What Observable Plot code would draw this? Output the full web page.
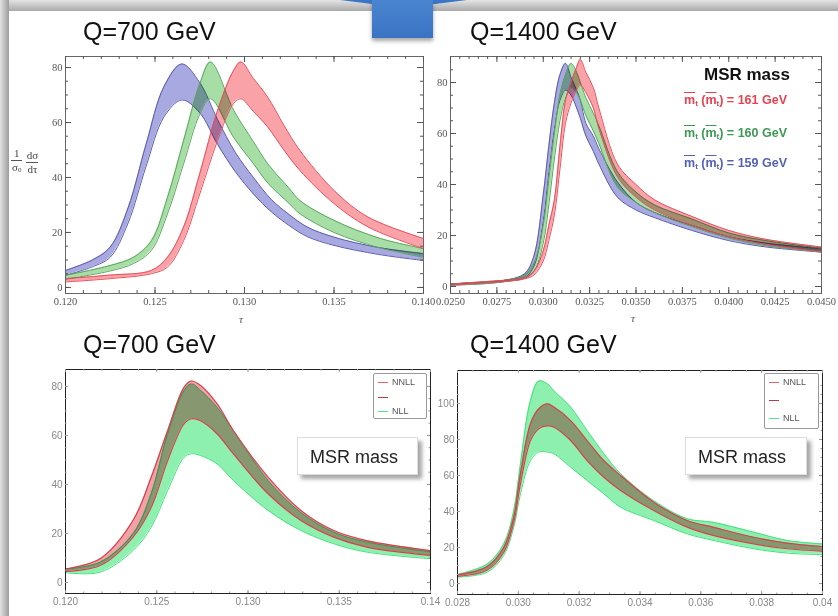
<!DOCTYPE html>
<html><head><meta charset="utf-8">
<script src="https://cdn.jsdelivr.net/npm/d3@7"></script>
<script src="https://cdn.jsdelivr.net/npm/@observablehq/plot@0.6"></script>
<style>
body{margin:0;width:838px;height:616px;overflow:hidden;background:#fff;position:relative;font-family:"Liberation Sans",Arial,sans-serif;}
.abs{position:absolute;}
.title{font-size:25px;color:#111;line-height:25px;white-space:nowrap;}
.ol{text-decoration:overline;}
.leg{font-weight:bold;font-size:12.5px;white-space:nowrap;line-height:14px;}
.leg sub{font-size:8px;vertical-align:-2px;}
.frac{font-family:"Liberation Serif",serif;font-size:11px;color:#444;white-space:nowrap;}
.f{display:inline-flex;flex-direction:column;align-items:center;vertical-align:middle;margin-right:4px;line-height:13px;}
.den{border-top:1px solid #555;padding:0 1px;}
.den sub{font-size:7px;vertical-align:-1px;}
.tau{font-family:"Liberation Serif",serif;font-style:italic;font-size:11px;color:#555;}
.lbox{background:#fff;border:1px solid #999;border-radius:2px;font-size:9px;color:#555;}
.row{position:absolute;white-space:nowrap;line-height:10px;}
.sw{display:inline-block;width:10px;height:1.5px;vertical-align:middle;margin-right:4px;}
.msr{background:#fff;border:1px solid #ddd;box-shadow:4px 4px 4px rgba(0,0,0,0.35);font-size:18px;color:#222;line-height:38px;padding-left:12px;box-sizing:border-box;}
</style></head><body>
<script>
// ---------------- data ----------------
// Top-left: Q=700 GeV, tau
const tlBlueX = [0.120,0.1215,0.1225,0.1235,0.1245,0.1255,0.1265,0.1275,0.1285,0.1295,0.1305,0.1315,0.1325,0.1335,0.135,0.1375,0.140];
const tlBlueHi = [6.2,10,14.7,29,52,73,81.3,74.5,61,49,40,32,26.5,22,18.3,14.5,12.3];
const tlBlueLo = [4.4,7.5,11,23.5,44,62,68.2,63.5,52,42,34,27.5,22.5,18.5,15.3,12,9.8];
const tlGreenX = [0.120,0.1225,0.1238,0.1248,0.1257,0.1266,0.1275,0.1281,0.1294,0.1305,0.1313,0.1325,0.1331,0.135,0.1375,0.140];
const tlGreenHi = [4.4,8,11,17,32.8,53.5,74,82,64.4,53,45,36,31.6,24.4,18,14.1];
const tlGreenLo = [3,6,8.7,13.5,26.8,45,63,68.6,54.5,45,38,30.5,26.8,20,14.5,11];
const tlRedX = [0.120,0.1225,0.1248,0.1257,0.1266,0.1275,0.1285,0.1294,0.1298,0.1305,0.1313,0.1322,0.1331,0.135,0.1369,0.140];
const tlRedHi = [3.2,4.5,6.2,11,22,41.4,64.4,79,82,76,69.2,59,49.8,35.3,25.6,17.8];
const tlRedLo = [2,3.2,5,7.4,17,34,53.5,67,68.6,64,58.3,50,42.5,30.5,22,14.1];

// Top-right: Q=1400 GeV, tau
const trX = [0.025,0.027,0.028,0.029,0.0295,0.0300,0.0303,0.0306,0.0309,0.0312,0.0315,0.0318,0.0320,0.0323,0.0327,0.033,0.034,0.035,0.036,0.038,0.040,0.042,0.045];
const trBlueHi = [1,1.8,2.5,5,12,36,55,72,83,87.5,82,77,73,64,59,54,41,33,29,24,19.5,17,14.8];
const trBlueLo = [0.5,1.2,2,3.5,8,26,45,62,73,77,75,70,66,59,53,48,35,30,27,22,18,15.5,13.5];
const trGreenHi = [1,1.8,2.5,4.5,9,24,42,60,75,83,87.5,84,80,74,68,63,45,37,32,26.5,21,18,15];
const trGreenLo = [0.5,1.2,2,3.2,6,17,32,50,65,74,78,76,73,67,61,56,39,33,29,23.5,19,16,13.5];
const trRedHi = [1,2,2.5,3.5,6,14,24,34,55,73,80,86,89,84,78,70,48,40,34,27.5,22,18.5,15.5];
const trRedLo = [0.5,1.5,2,3,4.5,10,18,28,46,64,72,77,79,76,70,62,43,35,30,24,19.5,16.5,13.5];

// Bottom-left: Q=700 GeV, NNLL vs NLL
const blX = [0.120,0.1219,0.1237,0.1247,0.1256,0.1265,0.1269,0.1274,0.1283,0.1292,0.1311,0.1329,0.1347,0.1365,0.140];
const blNNLLHi = [5.5,9.7,25.3,43,62,79.7,82.2,80.4,73,62,43,29.4,21.2,17.1,13];
const blNNLLLo = [4.5,6.9,18.5,30.7,49.8,64.8,66.8,66,60.7,52.5,36.2,25.3,18.5,14.4,11];
const blNLLHi = [5.5,8.3,19.9,36.3,60.8,78.4,81,78.4,71.5,62,41.6,28.5,20.5,16.5,12.5];
const blNLLLo = [4,4.2,13,22.6,37.6,51.1,52.5,51.8,48.4,41.6,29.4,21.2,15.8,12.4,9.7];

// Bottom-right: Q=1400 GeV, NNLL vs NLL
const brX = [0.028,0.02898,0.02952,0.02985,0.03007,0.0304,0.03067,0.03095,0.03117,0.03172,0.03226,0.03281,0.03336,0.03445,0.03555,0.0364,0.03774,0.03884,0.040];
const brNLLHi = [5,10.9,22,40.6,66.5,101.7,112.4,111,107,98,85,72.2,61,46,36,34,28.5,23.9,22];
const brNLLLo = [3.5,6.3,15.6,31.3,49.8,68.3,73,73,72,64.6,57.2,49.8,42.4,35,27.6,24,19.3,16.9,16];
const brNNLLHi = [4.8,9.5,20,37,61,88.7,97,99.8,98,90.5,79.4,68.3,60,45.2,35,31.3,25.7,22.4,20.5];
const brNNLLLo = [4,7.5,17.4,34,55.4,79.4,86,87.5,86.8,79.4,68.3,59,51.7,40.6,31.3,26.7,22,19.3,18];

// tick values and labels
const tlXTicks = [0.120,0.125,0.130,0.135,0.140];
const tlXLabels = ["0.120","0.125","0.130","0.135","0.140"];
const tlYTicks = [0,20,40,60,80];
const tlYLabels = ["0","20","40","60","80"];
const trXTicks = [0.025,0.0275,0.030,0.0325,0.035,0.0375,0.040,0.0425,0.045];
const trXLabels = ["0.0250","0.0275","0.0300","0.0325","0.0350","0.0375","0.0400","0.0425","0.0450"];
const trYTicks = [0,20,40,60,80];
const trYLabels = ["0","20","40","60","80"];
const blXTicks = [0.120,0.125,0.130,0.135,0.140];
const blXLabels = ["0.120","0.125","0.130","0.135","0.14"];
const blYTicks = [0,20,40,60,80];
const blYLabels = ["0","20","40","60","80"];
const brXTicks = [0.028,0.030,0.032,0.034,0.036,0.038,0.040];
const brXLabels = ["0.028","0.030","0.032","0.034","0.036","0.038","0.04"];
const brYTicks = [0,20,40,60,80,100];
const brYLabels = ["0","20","40","60","80","100"];

const titles = ["Q=700 GeV","Q=1400 GeV","Q=700 GeV","Q=1400 GeV"];
const massLegend = [["161","#e8414f"],["160","#3d9a55"],["159","#5561b3"]];
const orderLegend = [["NNLL","#e8606c"],["","#b83a48"],["NLL","#55e58a"]];

// ---------------- helpers ----------------
function rows(xs, lo, hi){ return xs.map((x,i)=>({x, lo: lo[i], hi: hi[i]})); }
function lbl(ticks, labels){ const m = new Map(ticks.map((t,i)=>[t,labels[i]])); return d => m.get(d); }

function band(data, fill, stroke, opt={}){
  return [
    Plot.areaY(data,{x:"x",y1:"lo",y2:"hi",fill,curve:"catmull-rom",clip:true}),
    Plot.line(data,{x:"x",y:"hi",stroke,strokeWidth:opt.sw ?? 1,curve:"catmull-rom",clip:true}),
    Plot.line(data,{x:"x",y:"lo",stroke,strokeWidth:opt.sw ?? 1,curve:"catmull-rom",clip:true})
  ];
}

// axes: labels via axis marks, inward ticks via short rules (full-frame rules shortened by insets)
function axes(c){
  const m = [];
  const font = {fontSize:c.fs, fontFamily:c.ff, fill:c.tc};
  m.push(Plot.axisX(c.xt,{anchor:"bottom",tickSize:0,tickPadding:c.xpad,tickFormat:lbl(c.xt,c.xl),label:null,...font}));
  m.push(Plot.axisY(c.yt,{anchor:"left",tickSize:0,tickPadding:c.ypad,tickFormat:lbl(c.yt,c.yl),label:null,...font}));
  const H = c.ph, W = c.pw;
  const add = (ticks, len) => {
    m.push(Plot.ruleX(ticks,{x:d=>d,stroke:c.kc,insetTop:H-len}));
    m.push(Plot.ruleX(ticks,{x:d=>d,stroke:c.kc,insetBottom:H-len}));
  };
  const addY = (ticks, len) => {
    m.push(Plot.ruleY(ticks,{y:d=>d,stroke:c.kc,insetRight:W-len}));
    m.push(Plot.ruleY(ticks,{y:d=>d,stroke:c.kc,insetLeft:W-len}));
  };
  add(c.xt, c.maj); add(c.xm, c.min);
  addY(c.yt, c.maj); addY(c.ym, c.min);
  return m;
}

function place(el, left, top){
  const d = document.createElement("div");
  d.className = "abs"; d.style.left = left+"px"; d.style.top = top+"px";
  d.appendChild(el); document.body.appendChild(d);
  el.querySelectorAll('[aria-label="area"]').forEach(g => g.style.mixBlendMode = "multiply");
  return d;
}
function html(s, left, top, cls, extra=""){
  const d = document.createElement("div");
  d.className = "abs " + (cls||""); d.style.left = left+"px"; d.style.top = top+"px";
  if (extra) d.style.cssText += extra;
  d.innerHTML = s; document.body.appendChild(d); return d;
}

const style = {background:"transparent",overflow:"visible"};

function panel(o){
  const pw = o.width - o.ml - o.mr, ph = o.height - o.mt - o.mb;
  const p = Plot.plot({
    width:o.width, height:o.height, marginLeft:o.ml, marginRight:o.mr, marginTop:o.mt, marginBottom:o.mb,
    x:{domain:o.xd}, y:{domain:o.yd}, style,
    marks:[
      ...o.bands,
      Plot.frame({stroke:o.frame}),
      ...axes({...o.ax, pw, ph})
    ]
  });
  place(p, o.left, o.top);
}

// ---------------- slide decoration ----------------
html("",0,0,"","width:838px;height:11px;background:linear-gradient(#e4e4e4,#a9a9a9);");
html("",0,0,"","width:9px;height:616px;background:linear-gradient(to right,#e2e2e2,#9c9c9c);");
html("",340,0,"","width:127px;height:4px;background:#3b76c6;clip-path:polygon(0 0,100% 0,75% 100%,25% 100%);");
html("",372,0,"","width:61px;height:38px;background:linear-gradient(#4a86d2,#3a73c2);box-shadow:0 3px 4px rgba(0,0,0,0.35);");

const topAx = {fs:10.5,ff:"Liberation Serif",tc:"#555",kc:"#555",xpad:4,ypad:3,maj:6,min:3};
const botAx = {fs:10,ff:"Liberation Sans",tc:"#888",kc:"#999",xpad:4,ypad:3,maj:3,min:1.5};

// panel 1: top-left
panel({left:20,top:48,width:420,height:264,ml:45,mr:17,mt:8,mb:19,xd:[0.12,0.14],yd:[-2.2,84],frame:"#666",
  bands:[
    ...band(rows(tlBlueX,tlBlueLo,tlBlueHi),"#a9a9e2","#5b5bab"),
    ...band(rows(tlGreenX,tlGreenLo,tlGreenHi),"#a6dea6","#5aa65e"),
    ...band(rows(tlRedX,tlRedLo,tlRedHi),"#f9a2a8","#e8505e")],
  ax:{...topAx,xt:tlXTicks,xl:tlXLabels,yt:tlYTicks,yl:tlYLabels,xm:d3.range(0.120,0.1405,0.001),ym:d3.range(0,85,5)}});

// panel 2: top-right
panel({left:420,top:48,width:418,height:264,ml:30,mr:17,mt:8,mb:19,xd:[0.025,0.045],yd:[-2.75,90.2],frame:"#666",
  bands:[
    ...band(rows(trX,trBlueLo,trBlueHi),"#a9a9e2","#5b5bab"),
    ...band(rows(trX,trGreenLo,trGreenHi),"#a6dea6","#5aa65e"),
    ...band(rows(trX,trRedLo,trRedHi),"#f9a2a8","#e8505e")],
  ax:{...topAx,xt:trXTicks,xl:trXLabels,yt:trYTicks,yl:trYLabels,xm:d3.range(0.025,0.0451,0.0005),ym:d3.range(0,90,5)}});

// panel 3: bottom-left
panel({left:20,top:360,width:420,height:250,ml:45,mr:10,mt:9,mb:17,xd:[0.12,0.14],yd:[-4.5,86.9],frame:"#222",
  bands:[
    ...band(rows(blX,blNLLLo,blNLLHi),"#8ef0ae","#3fe27a"),
    ...band(rows(blX,blNNLLLo,blNNLLHi),"#f2a2a6","#d8404e",{sw:1.2})],
  ax:{...botAx,xt:blXTicks,xl:blXLabels,yt:blYTicks,yl:blYLabels,xm:d3.range(0.120,0.1405,0.001),ym:d3.range(0,85,5)}});

// panel 4: bottom-right
panel({left:420,top:360,width:418,height:250,ml:37,mr:16,mt:10,mb:16,xd:[0.028,0.040],yd:[-6.1,118.3],frame:"#222",
  bands:[
    ...band(rows(brX,brNLLLo,brNLLHi),"#8ef0ae","#3fe27a"),
    ...band(rows(brX,brNNLLLo,brNNLLHi),"#f2a2a6","#d8404e",{sw:1.2})],
  ax:{...botAx,xt:brXTicks,xl:brXLabels,yt:brYTicks,yl:brYLabels,xm:d3.range(0.028,0.0401,0.0005),ym:d3.range(0,115,5)}});

// ---------------- titles & labels ----------------
html(titles[0],83,19,"title");
html(titles[1],470,19,"title");
html(titles[2],83,332,"title");
html(titles[3],470,332,"title");

html('<span class="f"><span>1</span><span class="den">σ<sub>0</sub></span></span><span class="f"><span>dσ</span><span class="den">dτ</span></span>',11,147,"frac");
html("τ",239,313,"tau");
html("τ",631,312,"tau");

// MSR legend (top-right)
html("MSR mass",662,65,"","width:170px;text-align:center;font-weight:bold;font-size:17px;color:#111;");
massLegend.forEach(([v,c],i)=>{
  html(`<span class="ol">m</span><sub>t</sub> (<span class="ol">m</span><sub>t</sub>) = ${v} GeV`,684,[93,126,156][i],"leg",`color:${c};`);
});

// order legends (bottom)
function orderBox(left, top, w, h, ys, lx){
  const b = html("",left,top,"lbox",`width:${w}px;height:${h}px;`);
  orderLegend.forEach(([t,c],i)=>{
    const r = document.createElement("div");
    r.className = "row"; r.style.left = lx+"px"; r.style.top = (ys[i]-top-5)+"px";
    r.innerHTML = `<span class="sw" style="background:${c}"></span>${t}`;
    b.appendChild(r);
  });
}
orderBox(373,373,52,44,[381,396,410],4);
orderBox(764,373,53,54,[381,399,417],4);

html("MSR mass",297,437,"msr","width:121px;height:38px;");
html("MSR mass",685,437,"msr","width:122px;height:38px;");
</script>
</body></html>
